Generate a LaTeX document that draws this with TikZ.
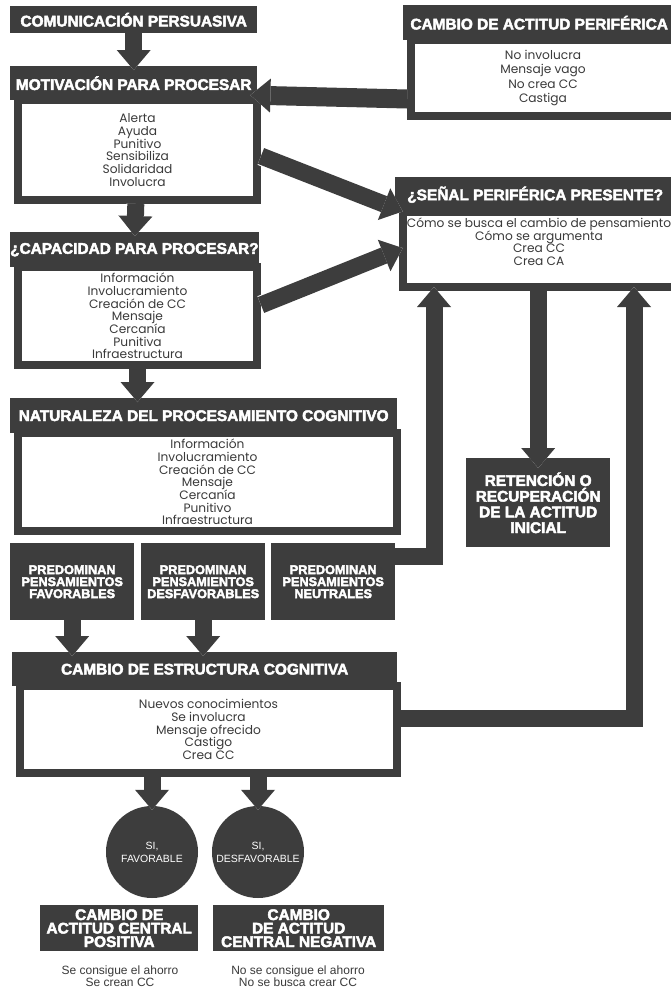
\documentclass[tikz,border=0pt]{standalone}
\usepackage{fontspec}
\setmainfont{Poppins}
\newfontfamily\headfont{Liberation Sans}[UprightFont={* Bold},FakeBold=3]
\newfontfamily\plainfont{Liberation Sans}
\usetikzlibrary{arrows.meta}
\definecolor{ElaboDark}{HTML}{3D3D3D}
\definecolor{ElaboText}{HTML}{3A3A3A}
\newcommand\tightlines{\lineskiplimit=-6pt\relax}

\begin{document}
\begin{tikzpicture}[x=1pt,y=-1pt,
    hd/.style={fill=ElaboDark,text=white,font=\headfont\fontsize{15.4}{16}\selectfont,
      inner sep=0pt,anchor=north west},
    bx/.style={fill=white,draw=ElaboDark,line width=8pt,text=ElaboText,align=center,
      font=\fontsize{12.2}{12.7}\selectfont\tightlines,inner sep=0pt,anchor=north west},
    blk/.style={fill=ElaboDark,text=white,align=center,inner sep=0pt,anchor=north west},
    circ/.style={circle,fill=ElaboDark,text=white,align=center,inner sep=0pt,minimum size=92pt,
      font=\plainfont\fontsize{10.5}{13}\selectfont},
    note/.style={text=ElaboText,align=center,font=\plainfont\fontsize{12}{12.5}\selectfont},
    fat/.style={ElaboDark,line width=17pt,shorten >=-4pt,
      -{Triangle[width=34pt,length=20pt,line width=0pt]},
      preaction={draw=white,line width=19pt,-{Triangle[width=38pt,length=23pt,line width=0pt]}}}]
  \useasboundingbox[fill=white] (0,0) rectangle (671,991);

  % left column
  \node[hd,minimum width=247pt,minimum height=27pt] (com) at (10,6) {COMUNICACIÓN PERSUASIVA};
  \node[hd,minimum width=247pt,minimum height=34pt] (mot) at (10,66) {MOTIVACIÓN PARA PROCESAR};
  \node[bx,minimum width=239pt,minimum height=100pt] (motb) at (14,96)
    {Alerta\\Ayuda\\Punitivo\\Sensibiliza\\Solidaridad\\Involucra};
  \node[hd,minimum width=247pt,minimum height=35pt] (cap) at (10,232) {¿CAPACIDAD PARA PROCESAR?};
  \node[bx,minimum width=239pt,minimum height=98pt] (capb) at (14,263)
    {Información\\Involucramiento\\Creación de CC\\Mensaje\\Cercanía\\Punitiva\\Infraestructura};
  \node[hd,minimum width=387pt,minimum height=35pt] (nat) at (10,398) {NATURALEZA DEL PROCESAMIENTO COGNITIVO};
  \node[bx,minimum width=379pt,minimum height=98pt] (natb) at (14,429)
    {Información\\Involucramiento\\Creación de CC\\Mensaje\\Cercanía\\Punitivo\\Infraestructura};
  \foreach \n/\x/\t in {fav/10/FAVORABLES,des/141/DESFAVORABLES,neu/271/NEUTRALES}
    \node[blk,minimum width=124pt,minimum height=77pt,font=\headfont\fontsize{12.7}{12}\selectfont]
      (\n) at (\x,543) {PREDOMINAN\\PENSAMIENTOS\\\t};
  \node[hd,minimum width=385pt,minimum height=34pt] (est) at (12,652) {CAMBIO DE ESTRUCTURA COGNITIVA};
  \node[bx,minimum width=377pt,minimum height=87pt] (estb) at (16,682)
    {Nuevos conocimientos\\Se involucra\\Mensaje ofrecido\\Castigo\\Crea CC};
  \node[circ] (fav2) at (152,852) {SI,\\FAVORABLE};
  \node[circ] (des2) at (258,852) {SI,\\DESFAVORABLE};
  \node[blk,minimum width=158pt,minimum height=46pt,font=\headfont\fontsize{15.4}{13.5}\selectfont]
    (pos) at (40,905) {CAMBIO DE\\ACTITUD CENTRAL\\POSITIVA};
  \node[blk,minimum width=171pt,minimum height=46pt,font=\headfont\fontsize{15.4}{13.5}\selectfont]
    (neg) at (213,905) {CAMBIO\\DE ACTITUD\\CENTRAL NEGATIVA};
  \node[note] (posn) at (120,976) {Se consigue el ahorro\\Se crean CC};
  \node[note] (negn) at (298,976) {No se consigue el ahorro\\No se busca crear CC};

  % right column
  \node[hd,minimum width=272pt,minimum height=35pt] (per) at (403,5) {CAMBIO DE ACTITUD PERIFÉRICA};
  \node[bx,minimum width=264pt,minimum height=76pt,font=\fontsize{12.2}{14.6}\selectfont] (perb) at (407,36)
    {No involucra\\Mensaje vago\\No crea CC\\Castiga};
  \node[hd,minimum width=280pt,minimum height=35pt] (sen) at (395,177) {¿SEÑAL PERIFÉRICA PRESENTE?};
  \node[bx,minimum width=272pt,minimum height=75pt] (senb) at (399,208)
    {Cómo se busca el cambio de pensamiento\\Cómo se argumenta\\Crea CC\\Crea CA\\[3pt]};
  \node[blk,minimum width=144pt,minimum height=89pt,font=\headfont\fontsize{15.4}{15.7}\selectfont]
    (ret) at (466,458) {RETENCIÓN O\\RECUPERACIÓN\\DE LA ACTITUD\\INICIAL};

  % arrows
  \draw[fat] (com) -- (mot);
  \draw[fat] (motb) -- (cap);
  \draw[fat] (capb.south) -- (capb.south |- nat.north);
  \draw[fat] (fav) -- (fav |- est.north);
  \draw[fat] (des) -- (des |- est.north);
  \draw[fat] (fav2 |- estb.south) -- (fav2);
  \draw[fat] (des2 |- estb.south) -- (des2);
  \draw[fat,line width=19pt] ([yshift=-21pt]perb.west) -- ([xshift=-3pt,yshift=-12pt]mot.east);
  \draw[fat] ([yshift=-6pt]motb.east) -- ([yshift=-2pt]senb.north west);
  \draw[fat] ([yshift=11pt]capb.east) -- (senb.west);
  \draw[fat] ([yshift=25pt]neu.east) -| ([xshift=35pt]senb.south west);
  \draw[fat,shorten >=-10pt] (ret |- senb.south) -- (ret);
  \draw[fat] ([yshift=11pt]estb.east) -| ([xshift=235pt]senb.south west);
\end{tikzpicture}
\end{document}
